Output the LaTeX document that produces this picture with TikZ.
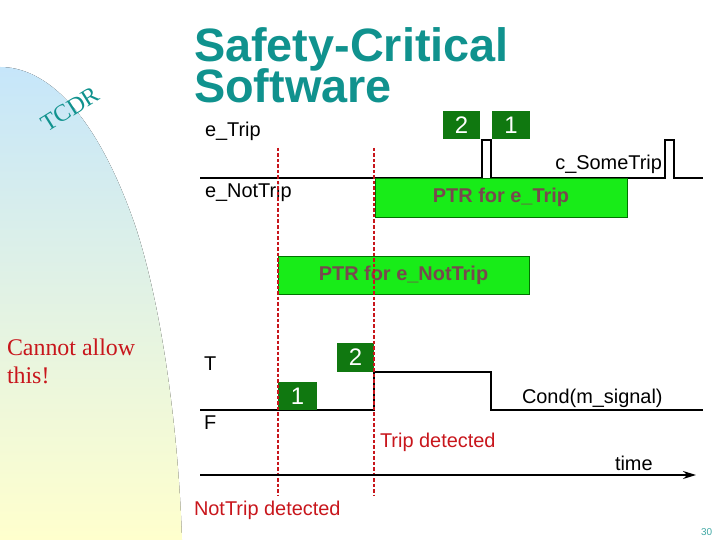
\documentclass[tikz,border=0pt]{standalone}
\usepackage{fontspec}
\setmainfont{Liberation Serif}
\setsansfont{Liberation Sans}
\usepackage{xcolor}
\usepackage{tikz}
\usetikzlibrary{arrows.meta}

\definecolor{titleteal}{RGB}{16,146,142}
\definecolor{darkbox}{RGB}{16,120,16}
\definecolor{ptrgreen}{RGB}{24,236,24}
\definecolor{ptrtext}{RGB}{120,72,78}
\definecolor{detred}{RGB}{200,22,28}
\definecolor{bgblue}{RGB}{198,230,250}
\definecolor{bgmid}{RGB}{226,245,230}
\definecolor{bgyellow}{RGB}{255,255,205}

\begin{document}
\begin{tikzpicture}[x=1bp, y=-1bp,
    every node/.style={inner sep=0pt, outer sep=0pt},
    lbl/.style={font=\sffamily\fontsize{20}{24}\selectfont},
    ptrbox/.style={draw=black!55!green, line width=0.6bp, fill=ptrgreen, anchor=north west,
        text=ptrtext, font=\sffamily\bfseries\fontsize{20}{24}\selectfont},
    numbox/.style={fill=darkbox, anchor=north west, text=white, font=\sffamily\fontsize{24}{26}\selectfont},
    signal/.style={line width=1.4bp, black},
    detline/.style={detred, line width=1.3bp, dash pattern=on 3.5bp off 2bp}]
    \useasboundingbox (0,0) rectangle (720,540);

    % Background swoosh
    \fill[top color=bgblue, middle color=bgmid, bottom color=bgyellow]
        (0,67) .. controls (45,67) and (95,110) .. (135,225)
        .. controls (160,300) and (178,420) .. (182,540) -- (0,540) -- cycle;
    \node[rotate=32, text=titleteal, font=\rmfamily\fontsize{24}{26}\selectfont] (tcdr) at (70,109) {TCDR};

    % Title
    \node[anchor=base west, text=titleteal, font=\sffamily\bfseries\fontsize{47}{40}\selectfont] (title1) at (194,62) {Safety-Critical};
    \node[anchor=base west, text=titleteal, font=\sffamily\bfseries\fontsize{47}{40}\selectfont] (title2) at (194,103) {Software};

    % e_Trip / e_NotTrip
    \node[lbl, anchor=base west] (etrip) at (205,137) {e\_Trip};
    \node[lbl, anchor=base west] (enottrip) at (205,198) {e\_NotTrip};
    \node[lbl, anchor=base east] (csome) at (662,170) {c\_SomeTrip};
    \node[numbox, minimum width=37bp, minimum height=28bp] (ntwo) at (443,111) {2};
    \node[numbox, minimum width=38bp, minimum height=28bp] (none) at (492,111) {1};
    \draw[signal] (200,178) -- (482,178) -- (482,140) -- (491,140) -- (491,178)
        -- (665,178) -- (665,140) -- (674,140) -- (674,178) -- (703,178);
    \node[ptrbox, minimum width=252bp, minimum height=39bp] (ptrtrip) at (375,178) {PTR for e\_Trip};

    \node[ptrbox, minimum width=251bp, minimum height=38bp] (ptrnot) at (278,256) {PTR for e\_NotTrip};

    % Cond(m_signal)
    \node[lbl, anchor=base west] (tlab) at (204,370) {T};
    \node[lbl, anchor=base west] (flab) at (204,429) {F};
    \node[lbl, anchor=base west] (cond) at (522,403) {Cond(m\_signal)};
    \draw[signal] (200,410) -- (374,410) -- (374,372) -- (491,372) -- (491,410) -- (703,410);
    \node[numbox, minimum width=39bp, minimum height=28bp] (cone) at (278,382) {1};
    \node[numbox, minimum width=37bp, minimum height=29bp] (ctwo) at (337,343) {2};

    % Detection instants
    \coordinate (ntop) at (278,148);
    \coordinate (nbot) at (278,496);
    \coordinate (ttop) at (374,148);
    \coordinate (tbot) at (374,496);
    \draw[detline] (ntop) -- (nbot);
    \draw[detline] (ttop) -- (tbot);
    \node[lbl, anchor=base west, text=detred] (tripdet) at (380,447) {Trip detected};
    \node[lbl, anchor=base west, text=detred] (notdet) at (194,515) {NotTrip detected};

    % Time axis
    \coordinate (tstart) at (200,475);
    \coordinate (tend) at (696,475);
    \draw[line width=1.6bp, -{Stealth[length=13bp, width=8bp]}] (tstart) -- (tend);
    \node[lbl, anchor=base west] (time) at (615,470) {time};

    \node[anchor=base west, text=detred, font=\rmfamily\fontsize{24}{28}\selectfont] (cant1) at (7,355) {Cannot allow};
    \node[anchor=base west, text=detred, font=\rmfamily\fontsize{24}{28}\selectfont] (cant2) at (7,383) {this!};

    \node[anchor=base west, text=titleteal!80, font=\sffamily\fontsize{10}{12}\selectfont] (pnum) at (701,535) {30};
\end{tikzpicture}
\end{document}
